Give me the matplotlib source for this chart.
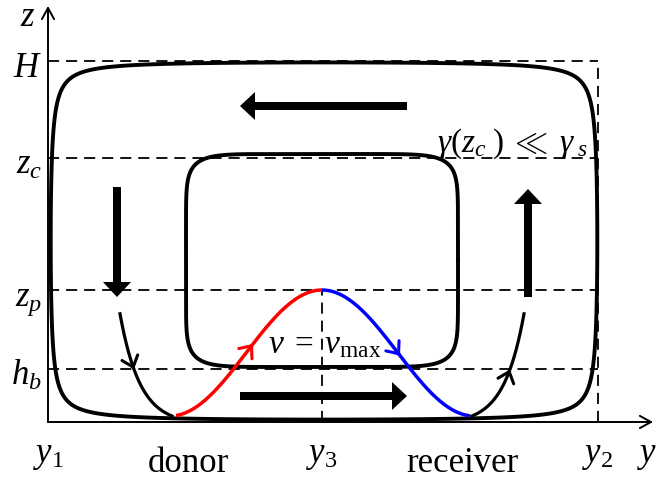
import numpy as np
import matplotlib
matplotlib.use('Agg')
import matplotlib.pyplot as plt

plt.rcParams['font.family'] = ['Liberation Serif', 'DejaVu Serif']
plt.rcParams['mathtext.fontset'] = 'custom'
plt.rcParams['mathtext.rm'] = 'Liberation Serif'
plt.rcParams['mathtext.it'] = 'Liberation Serif:italic'
plt.rcParams['mathtext.bf'] = 'Liberation Serif:bold'
plt.rcParams['lines.scale_dashes'] = False

# horizontal positions (y) and heights (z) of the marked levels
y_pos = [0, 274, 550]
y_labels = ['$y_1$', '$y_3$', '$y_2$']
z_pos = [53, 132, 264, 361]
z_labels = ['$h_b$', '$z_p$', '$z_c$', '$H$']

y_len = 605
z_len = 416

# outer cell: level of psi = sin(pi u) sin(pi v)
outer_box = (-1, 553, 0, 362)
outer_level = 0.021

# inner cell: superellipse (centre y, centre z, half width, half height, exponent)
inner_cell = (274, 161.5, 136, 106.5, 8)

# parcel path across the cell: base, peak, centre, half width
bell_base = 6
bell_peak = 132
bell_centre = 274
bell_half = 152
bell_from, bell_to = 128, 422

# side streamlines near donor and receiver
side_amp, side_scale, side_len = 8.2, 20.0, 52

fig = plt.figure(figsize=(6.56, 4.81), dpi=100)
ax = fig.add_axes([0, 0, 1, 1])
ax.set_xlim(-48, 608)
ax.set_ylim(-58, 423)
ax.axis('off')

# axes with open arrow heads
ax_arrow = dict(arrowstyle='->,head_length=0.4,head_width=0.22', lw=1.4,
                color='k', shrinkA=0, shrinkB=0, mutation_scale=20)
ax.annotate('', xy=(y_len, 0), xytext=(0, 0), arrowprops=ax_arrow)
ax.annotate('', xy=(0, z_len), xytext=(0, 0), arrowprops=ax_arrow)

# dashed levels
dash = dict(color='k', lw=1.3, dashes=(8, 5))
for z in z_pos:
    ax.plot([0, y_pos[2]], [z, z], **dash)
ax.plot([y_pos[2], y_pos[2]], [0, z_pos[3]], **dash)
ax.plot([y_pos[1], y_pos[1]], [0, z_pos[1]], **dash)

# outer streamline
y0, y1, z0, z1 = outer_box
gy, gz = np.meshgrid(np.linspace(y0, y1, 1400), np.linspace(z0, z1, 1000))
psi = np.sin(np.pi * (gy - y0) / (y1 - y0)) * np.sin(np.pi * (gz - z0) / (z1 - z0))
ax.contour(gy, gz, psi, levels=[outer_level], colors='k', linewidths=2.8)

# inner streamline
cy, cz, a, b, n = inner_cell
t = np.linspace(0, 2 * np.pi, 800)
iy = cy + a * np.sign(np.cos(t)) * np.abs(np.cos(t)) ** (2 / n)
iz = cz + b * np.sign(np.sin(t)) * np.abs(np.sin(t)) ** (2 / n)
ax.plot(iy, iz, color='k', lw=2.8)


def bell(y):
    return bell_base + (bell_peak - bell_base) * (1 + np.cos(np.pi * (y - bell_centre) / bell_half)) / 2


yr = np.linspace(bell_from, bell_centre, 200)
yb = np.linspace(bell_centre, bell_to, 200)
ax.plot(yr, bell(yr), color='red', lw=2.5, solid_capstyle='butt')
ax.plot(yb, bell(yb), color='blue', lw=2.5, solid_capstyle='butt')

# side streamlines
d = np.linspace(0, side_len, 200)
side_z = bell_base + side_amp * (np.exp(d / side_scale) - 1)
ax.plot(bell_from - 4 - d, side_z, color='k', lw=2.3)
ax.plot(bell_to + 2 + d, side_z, color='k', lw=2.3)


def flow_head(x, y, dx, dy, color):
    ax.annotate('', xy=(x, y), xytext=(x - dx, y - dy),
                arrowprops=dict(arrowstyle='->,head_length=0.36,head_width=0.3',
                                lw=2.2, color=color, shrinkA=0, shrinkB=0,
                                mutation_scale=20))


def side_point(dd):
    return bell_base + side_amp * (np.exp(dd / side_scale) - 1)


dl = 38
flow_head(bell_from - 4 - dl, side_point(dl), 1.0, -side_point(dl + 1) + side_point(dl), 'k')
flow_head(bell_to + 2 + dl, side_point(dl), 1.0, side_point(dl + 1) - side_point(dl), 'k')
yr0, yb0 = 205, 352
flow_head(yr0, bell(yr0), 1.0, bell(yr0 + 1) - bell(yr0), 'red')
flow_head(yb0, bell(yb0), 1.0, bell(yb0 + 1) - bell(yb0), 'blue')

# bulk circulation arrows
big = dict(width=8, head_width=28, head_length=15, length_includes_head=True,
           fc='k', ec='none')
ax.arrow(359, 316, -167, 0, **big)
ax.arrow(192, 26, 167, 0, **big)
ax.arrow(69, 235, 0, -110, **big)
ax.arrow(480, 125, 0, 108, **big)

# labels
fs = 25
ax.text(-13, 397, '$z$', fontsize=fs, ha='right', va='baseline')
for z, lab in zip(z_pos, z_labels):
    ax.text(-6, z - 15, lab, fontsize=fs, ha='right', va='baseline')
for y, lab in zip(y_pos, y_labels):
    ax.text(y, -39, lab, fontsize=fs, ha='center', va='baseline')
ax.text(599, -39, '$y$', fontsize=fs, ha='center', va='baseline')
ax.text(140, -49, 'donor', fontsize=fs, ha='center', va='baseline')
ax.text(414, -49, 'receiver', fontsize=fs, ha='center', va='baseline')
ax.text(220, 70, r'$v\;=\;v_{\rm max}$', fontsize=24, ha='left', va='baseline')
ax.text(389, 271, r'$\gamma(z_c\;)\;\ll\;\gamma_{\;s}$', fontsize=24, ha='left', va='baseline')

fig.savefig('out.png', dpi=100)
